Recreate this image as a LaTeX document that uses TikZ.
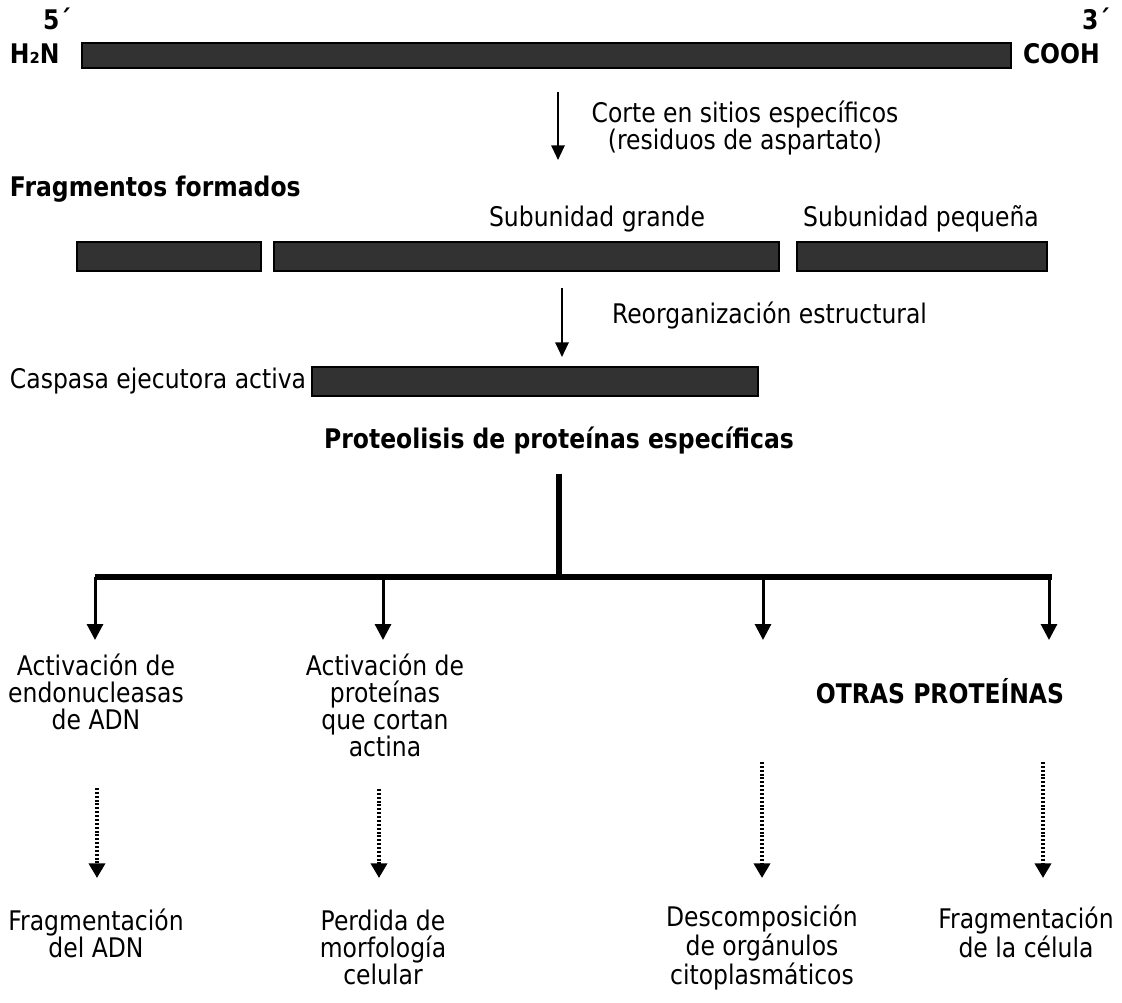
\documentclass[tikz,border=0pt]{standalone}
\usepackage{fontspec}
\setmainfont{DejaVu Sans}[FakeStretch=0.87]
\usetikzlibrary{arrows.meta}
\definecolor{bargray}{RGB}{50,50,50}
\begin{document}
\begin{tikzpicture}[x=0.75pt,y=-0.75pt,
  every node/.style={inner sep=0pt, outer sep=0pt},
  txt/.style={font=\fontsize{20.25}{20.25}\selectfont, align=center},
  btxt/.style={font=\fontsize{20.25}{20.25}\selectfont\bfseries, align=center},
  bar/.style={draw=black, line width=1.5pt, fill=bargray, rectangle},
  thinarrow/.style={line width=1.5pt, -{Triangle[width=10pt,length=11pt]}},
  midarrow/.style={line width=2.25pt, -{Triangle[width=12pt,length=12pt]}},
  dotarrow/.style={line width=3pt, dash pattern=on 1.5pt off 1.4pt, -{Triangle[width=12pt,length=11pt]}},
  thickline/.style={line width=4.5pt}
]
\useasboundingbox (0,0) rectangle (1122,1003);

% top chain
\node[bar, minimum width=696.75pt, minimum height=18.75pt] (chain) at (546.5,55.5) {};
\node[btxt, anchor=base west] (n5) at (43,30) {5´};
\node[btxt, anchor=base west] (n3) at (1082,30) {3´};
\node[btxt, anchor=base west] (h2n) at (10,63) {H₂N};
\node[btxt, anchor=base west] (cooh) at (1023,63) {COOH};

% arrow 1
\coordinate (a1s) at (558,92);
\coordinate (a1e) at (558,160);
\draw[thinarrow] (a1s) -- (a1e);
% anchor=base refers to the last line
\node[txt, anchor=base] (corte) at (745,149) {Corte en sitios específicos\\(residuos de aspartato)};

% fragments
\node[btxt, anchor=base west] (frag) at (10,196) {Fragmentos formados};
\node[txt, anchor=base] (sgrande) at (597,226) {Subunidad grande};
\node[txt, anchor=base] (spequena) at (921,226) {Subunidad pequeña};
\node[bar, minimum width=138pt, minimum height=21.75pt] (fa) at (169,256.5) {};
\node[bar, minimum width=378.75pt, minimum height=21.75pt] (fb) at (526.5,256.5) {};
\node[bar, minimum width=187.5pt, minimum height=21.75pt] (fc) at (922,256.5) {};

% arrow 2
\coordinate (a2s) at (562,288);
\coordinate (a2e) at (562,357);
\draw[thinarrow] (a2s) -- (a2e);
\node[txt, anchor=base west] (reorg) at (612,323) {Reorganización estructural};

% active caspase
\node[txt, anchor=base west] (casp) at (10,388) {Caspasa ejecutora activa};
\node[bar, minimum width=334.5pt, minimum height=21.75pt] (active) at (535,381.5) {};

% proteolysis
\node[btxt, anchor=base] (prot) at (559,448) {Proteolisis de proteínas específicas};
\coordinate (hubtop) at (559,474);
\coordinate (hub) at (559,577);
\coordinate (hl) at (95,577);
\coordinate (hr) at (1052,577);
\draw[thickline] (hubtop) -- (hub);
\draw[thickline] (hl) -- (hr);

\coordinate (d1) at (95,577);   \coordinate (e1) at (95,640);
\coordinate (d2) at (383,577);  \coordinate (e2) at (383,640);
\coordinate (d3) at (763,577);  \coordinate (e3) at (763,640);
\coordinate (d4) at (1049,577); \coordinate (e4) at (1049,640);
\draw[midarrow] (d1) -- (e1);
\draw[midarrow] (d2) -- (e2);
\draw[midarrow] (d3) -- (e3);
\draw[midarrow] (d4) -- (e4);

% second level texts (base = last line)
\node[txt, anchor=base] (t1) at (96,729) {Activación de\\endonucleasas\\de ADN};
\node[txt, anchor=base] (t2) at (385,756) {Activación de\\proteínas\\que cortan\\actina};
\node[btxt, anchor=base] (t3) at (940,703) {OTRAS PROTEÍNAS};

% dotted arrows
\coordinate (p1s) at (97,788);   \coordinate (p1e) at (97,878);
\coordinate (p2s) at (379,789);  \coordinate (p2e) at (379,878);
\coordinate (p3s) at (762,762);  \coordinate (p3e) at (762,878);
\coordinate (p4s) at (1043,762); \coordinate (p4e) at (1043,878);
\draw[dotarrow] (p1s) -- (p1e);
\draw[dotarrow] (p2s) -- (p2e);
\draw[dotarrow] (p3s) -- (p3e);
\draw[dotarrow] (p4s) -- (p4e);

% results (base = last line)
\node[txt, anchor=base] (b1) at (96,957) {Fragmentación\\del ADN};
\node[txt, anchor=base] (b2) at (383,984) {Perdida de\\morfología\\celular};
\node[txt, anchor=base] (b3) at (762,984) {Descomposición\\de orgánulos\\citoplasmáticos};
\node[txt, anchor=base] (b4) at (1026,957) {Fragmentación\\de la célula};
\end{tikzpicture}
\end{document}
